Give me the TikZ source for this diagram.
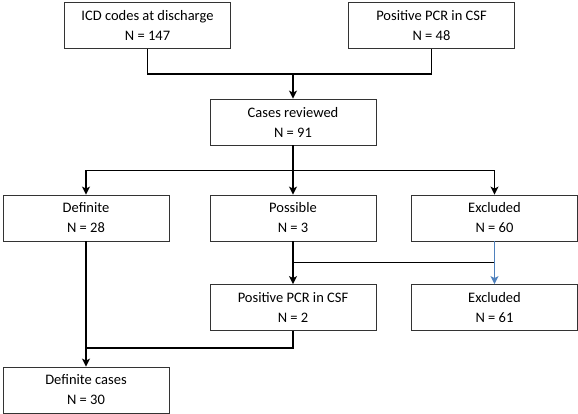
\documentclass[tikz,border=0pt]{standalone}
\usepackage{fontspec}
\setmainfont{Carlito}
\usepackage{tikz}
\usetikzlibrary{positioning, arrows.meta}
\definecolor{exblue}{RGB}{79,129,189}
\tikzstyle{box} = [rectangle, draw=black!80, line width=0.8pt, minimum width=166pt, minimum height=46pt, inner sep=0pt, align=center, font=\fontsize{14.5}{20}\selectfont]
\tikzstyle{line} = [line width=1.8pt]
\tikzstyle{arrow} = [line width=1.8pt,->,>={Stealth[length=8pt,width=8pt,inset=2pt]}]
\tikzstyle{bluearrow} = [arrow, draw=exblue, line width=1.5pt]

\begin{document}
\begin{tikzpicture}[x=1pt, y=1pt, node distance=96pt]
                \useasboundingbox (0,0) rectangle (578,413);
                \node (icd) [box] at (147.5,387.5) {ICD codes at discharge\\N = 147};
                \node (pcr) [box, right of=icd, node distance=284pt] {Positive PCR in CSF\\N = 48};
                \node (cases) [box] at (293,291) {Cases reviewed\\N = 91};
                \node (possible) [box, below of=cases] {Possible\\N = 3};
                \node (definite) [box, left of=possible, node distance=207pt] {Definite\\N = 28};
                \node (excl) [box, right of=possible, node distance=201.5pt] {Excluded\\N = 60};
                \node (pcrtwo) [box, below of=possible, node distance=89.5pt] {Positive PCR in CSF\\N = 2};
                \node (excltwo) [box, below of=excl, node distance=89.5pt] {Excluded\\N = 61};
                \node (defcases) [box, below of=definite, node distance=172pt] {Definite cases\\N = 30};

                \draw [line] (icd.south) -- ++(0,-25) coordinate (j1) -| (pcr.south);
                \draw [arrow] (j1 -| cases.north) -- (cases.north);
                \draw [line] (cases.south) -- ++(0,-25) coordinate (j2);
                \draw [arrow] (j2) -- (possible.north);
                \draw [arrow] (j2) -| (definite.north);
                \draw [arrow] (j2) -| (excl.north);
                \draw [line] (possible.south) -- ++(0,-21) coordinate (j3) -- (j3 -| excl.south);
                \draw [arrow] (j3) -- (pcrtwo.north);
                \draw [bluearrow] (excl.south) -- (excltwo.north);
                \draw [line] (pcrtwo.south) -- ++(0,-17) coordinate (j4) -- (j4 -| definite.south);
                \draw [arrow] (definite.south) -- (defcases.north);
            \end{tikzpicture}
\end{document}
